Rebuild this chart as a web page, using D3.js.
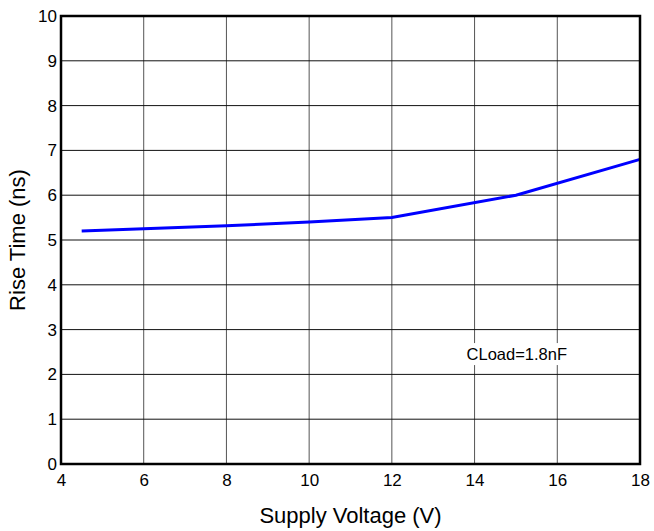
<html>
<head>
<style>
  body { margin: 0; background: #fff; font-family: "Liberation Sans", Arial, sans-serif; }
</style>
</head>
<body>
<script src="https://d3js.org/d3.v7.min.js"></script>
<div id="graph_item"></div>
<script>
// data
var voltage  = [4.5, 6, 8, 10, 12, 15, 18];
var riseTime = [5.2, 5.25, 5.32, 5.4, 5.5, 6.0, 6.8];
var xTicks = [4, 6, 8, 10, 12, 14, 16, 18];
var yTicks = [0, 1, 2, 3, 4, 5, 6, 7, 8, 9, 10];
var note = "CLoad=1.8nF";

var margin = {top: 16, right: 14, bottom: 67, left: 61},
    width = 654 - margin.left - margin.right,
    height = 531 - margin.top - margin.bottom;

var svg = d3.select("#graph_item")
  .append("svg")
    .attr("width", 654)
    .attr("height", 531)
  .append("g")
    .attr("transform", "translate(" + margin.left + "," + margin.top + ")");

var x = d3.scaleLinear().domain([4, 18]).range([0, width]);
var y = d3.scaleLinear().domain([0, 10]).range([height, 0]);

// grid
svg.append("g").selectAll("line")
  .data(xTicks)
  .join("line")
    .attr("x1", d => x(d)).attr("x2", d => x(d))
    .attr("y1", 0).attr("y2", height)
    .attr("stroke", "#555").attr("stroke-width", 1);
svg.append("g").selectAll("line")
  .data(yTicks)
  .join("line")
    .attr("x1", 0).attr("x2", width)
    .attr("y1", d => y(d)).attr("y2", d => y(d))
    .attr("stroke", "#111").attr("stroke-width", 1);

// axes (labels only)
svg.append("g")
  .attr("transform", "translate(0," + height + ")")
  .call(d3.axisBottom(x).tickValues(xTicks).tickSize(0).tickPadding(10))
  .call(g => g.select(".domain").remove())
  .selectAll("text")
    .style("font-size", "17px").style("font-family", "Liberation Sans, Arial, sans-serif").attr("fill", "#000");
svg.append("g")
  .call(d3.axisLeft(y).tickValues(yTicks).tickSize(0).tickPadding(4))
  .call(g => g.select(".domain").remove())
  .selectAll("text")
    .style("font-size", "17px").style("font-family", "Liberation Sans, Arial, sans-serif").attr("fill", "#000");

// note with white backing
var noteG = svg.append("g");
var noteText = noteG.append("text")
  .attr("x", x(14) - 8)
  .attr("y", y(2.32))
  .style("font-size", "16.5px")
  .style("font-family", "Liberation Sans, Arial, sans-serif")
  .text(note);
var bb = noteText.node().getBBox();
noteG.insert("rect", "text")
  .attr("x", bb.x - 2).attr("y", bb.y - 2)
  .attr("width", bb.width + 4).attr("height", bb.height + 4)
  .attr("fill", "#fff");

// the line
svg.append("path")
  .datum(voltage.map((v, i) => [v, riseTime[i]]))
  .attr("fill", "none")
  .attr("stroke", "#0000ff")
  .attr("stroke-width", 3)
  .attr("d", d3.line().x(d => x(d[0])).y(d => y(d[1])));

// frame
svg.append("rect")
  .attr("width", width).attr("height", height)
  .attr("fill", "none").attr("stroke", "#000").attr("stroke-width", 2.5);

// axis titles
svg.append("text")
  .attr("x", width / 2)
  .attr("y", height + 59)
  .attr("text-anchor", "middle")
  .style("font-size", "22px")
  .text("Supply Voltage (V)");
svg.append("text")
  .attr("transform", "rotate(-90)")
  .attr("x", -height / 2)
  .attr("y", -36)
  .attr("text-anchor", "middle")
  .style("font-size", "22px")
  .text("Rise Time (ns)");
</script>
</body>
</html>
